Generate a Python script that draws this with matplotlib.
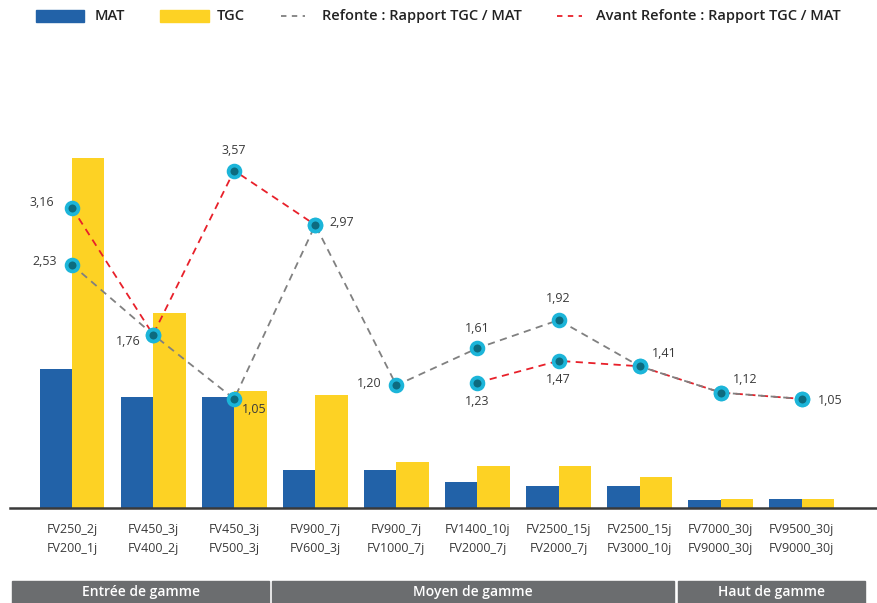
import numpy as np
import matplotlib.pyplot as plt
from matplotlib.patches import Rectangle
from matplotlib.lines import Line2D

plt.rcParams['font.family'] = ['Open Sans', 'DejaVu Sans']

# data
gammes_new = ['FV250_2j', 'FV450_3j', 'FV450_3j', 'FV900_7j', 'FV900_7j',
              'FV1400_10j', 'FV2500_15j', 'FV2500_15j', 'FV7000_30j', 'FV9500_30j']
gammes_old = ['FV200_1j', 'FV400_2j', 'FV500_3j', 'FV600_3j', 'FV1000_7j',
              'FV2000_7j', 'FV2000_7j', 'FV3000_10j', 'FV9000_30j', 'FV9000_30j']
mat = [139, 111, 111, 38, 38, 26, 22, 22, 8, 9]
tgc = [350, 195, 117, 113, 46, 42, 42, 31, 9, 9.5]
ratio_refonte = [2.53, 1.76, 1.05, 2.97, 1.20, 1.61, 1.92, 1.41, 1.12, 1.05]
ratio_avant = [3.16, 1.76, 3.57, 2.97, np.nan, 1.23, 1.47, 1.41, 1.12, 1.05]
segments = ['Entrée de gamme', 'Moyen de gamme', 'Haut de gamme']

BLUE = '#2262a8'
YELLOW = '#fdd224'
GREY_LINE = '#808080'
RED_LINE = '#e8202a'
CYAN = '#1cb5d9'
TEAL = '#0d6b7f'
TXT = '#3a3a3a'
BAND = '#6b6d6f'

W, H = 877, 603
fig = plt.figure(figsize=(W / 100, H / 100), dpi=100)
ax = fig.add_axes([10 / W, 95 / H, 867 / W, 448 / H])

x = np.arange(len(mat))
bw = 0.4
ax.bar(x - bw / 2, mat, bw, color=BLUE, zorder=2)
ax.bar(x + bw / 2, tgc, bw, color=YELLOW, zorder=2)
ax.set_xlim(-0.764, 9.926)
ax.set_ylim(0, 448)
ax.set_yticks([])
for s in ['top', 'left', 'right']:
    ax.spines[s].set_visible(False)
ax.spines['bottom'].set_color('#3a3a3a')
ax.spines['bottom'].set_linewidth(1.8)
ax.set_xticks(x)
ax.set_xticklabels([a + '\n' + b for a, b in zip(gammes_new, gammes_old)],
                   fontsize=9, color=TXT, linespacing=1.55)
ax.tick_params(axis='x', length=0, pad=11)

ax2 = ax.twinx()
ax2.set_ylim(-0.154, 4.79)
ax2.axis('off')
ax2.plot(x, ratio_avant, color=RED_LINE, ls=(0, (4, 3)), lw=1.3, zorder=3)
ax2.plot(x, ratio_refonte, color=GREY_LINE, ls=(0, (4, 3)), lw=1.3, zorder=3)
mk = dict(ls='none', marker='o', ms=8.5, mew=2.7, mfc=TEAL, mec=CYAN, zorder=5)
ax2.plot(x, ratio_avant, **mk)
ax2.plot(x, ratio_refonte, **mk)

off_refonte = [(-27, 3), (-25, -7), (20, -11), (26, 2), (-27, 2),
               (0, 20), (0, 22), (25, 13), (24, 13), (28, -2)]
off_avant = [(-30, 5), None, (0, 20), None, None,
             (0, -19), (0, -19), None, None, None]

def fmt(v):
    return f'{v:.2f}'.replace('.', ',')

for i, v in enumerate(ratio_refonte):
    ax2.annotate(fmt(v), (i, v), xytext=off_refonte[i], textcoords='offset pixels',
                 ha='center', va='center', fontsize=9, color=TXT, zorder=6)
for i, v in enumerate(ratio_avant):
    if off_avant[i] is None or np.isnan(v) or v == ratio_refonte[i]:
        continue
    ax2.annotate(fmt(v), (i, v), xytext=off_avant[i], textcoords='offset pixels',
                 ha='center', va='center', fontsize=9, color=TXT, zorder=6)

# legend drawn by hand
def fx(px):
    return px / W

def fy(py):
    return 1 - py / H

ly = 16
fig.add_artist(Rectangle((fx(36), fy(22)), fx(84) - fx(36), 12 / H, color=BLUE))
fig.text(fx(95), fy(ly), 'MAT', fontsize=10.5, weight='semibold', color='#222', va='center')
fig.add_artist(Rectangle((fx(160), fy(22)), fx(209) - fx(160), 12 / H, color=YELLOW))
fig.text(fx(217), fy(ly), 'TGC', fontsize=10.5, weight='semibold', color='#222', va='center')
fig.add_artist(Line2D([fx(281), fx(305)], [fy(ly), fy(ly)], color=GREY_LINE,
                      ls=(0, (3, 3)), lw=1.3))
fig.text(fx(322), fy(ly), 'Refonte : Rapport TGC / MAT', fontsize=10.5, weight='semibold',
         color='#222', va='center')
fig.add_artist(Line2D([fx(557), fx(582)], [fy(ly), fy(ly)], color=RED_LINE,
                      ls=(0, (3, 3)), lw=1.3))
fig.text(fx(596), fy(ly), 'Avant Refonte : Rapport TGC / MAT', fontsize=10.5,
         weight='semibold', color='#222', va='center')

# segment bands
bands = [(12, 269), (272, 674), (678, 865)]
for (x0, x1), name in zip(bands, segments):
    fig.add_artist(Rectangle((fx(x0), 0), fx(x1) - fx(x0), 22 / H, color=BAND))
    fig.text((fx(x0) + fx(x1)) / 2, 11 / H, name, fontsize=10, weight='semibold',
             color='white', ha='center', va='center')

fig.savefig('out.png', dpi=100)
